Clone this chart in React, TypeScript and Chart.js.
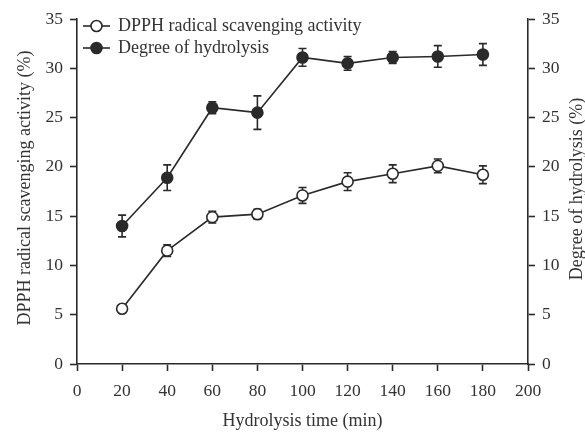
import React, { useEffect, useRef } from "react";
import { Chart, registerables } from "chart.js";

Chart.register(...registerables);

const times = [20, 40, 60, 80, 100, 120, 140, 160, 180];
const dpph = [5.6, 11.5, 14.9, 15.2, 17.1, 18.5, 19.3, 20.1, 19.2];
const dpphErr = [0.4, 0.6, 0.6, 0.5, 0.8, 0.9, 0.9, 0.7, 0.9];
const dh = [14.0, 18.9, 26.0, 25.5, 31.1, 30.5, 31.1, 31.2, 31.4];
const dhErr = [1.1, 1.3, 0.6, 1.7, 0.9, 0.7, 0.6, 1.1, 1.1];
const xTicks = [0, 20, 40, 60, 80, 100, 120, 140, 160, 180, 200];
const yTicks = [0, 5, 10, 15, 20, 25, 30, 35];

const FONT = "'Liberation Serif', 'Times New Roman', serif";
const INK = "#2a2a2a";
const TEXT = "#333333";

const errorBars = {
  id: "errorBars",
  beforeDatasetsDraw(chart: any) {
    const ctx = chart.ctx;
    const errs = [dpphErr, dhErr];
    ctx.save();
    ctx.strokeStyle = INK;
    ctx.lineWidth = 1.6;
    chart.data.datasets.forEach((ds: any, i: number) => {
      const ys = chart.scales[ds.yAxisID];
      const xs = chart.scales.x;
      ds.data.forEach((p: any, j: number) => {
        const x = xs.getPixelForValue(p.x);
        const y1 = ys.getPixelForValue(p.y + errs[i][j]);
        const y2 = ys.getPixelForValue(p.y - errs[i][j]);
        ctx.beginPath();
        ctx.moveTo(x, y1);
        ctx.lineTo(x, y2);
        ctx.moveTo(x - 4, y1);
        ctx.lineTo(x + 4, y1);
        ctx.moveTo(x - 4, y2);
        ctx.lineTo(x + 4, y2);
        ctx.stroke();
      });
    });
    ctx.restore();
  },
};

const decor = {
  id: "decor",
  afterDraw(chart: any) {
    const ctx = chart.ctx;
    const a = chart.chartArea;
    ctx.save();
    // legend
    const items = [
      { label: "DPPH radical scavenging activity", fill: "#ffffff", y: a.top + 7 },
      { label: "Degree of hydrolysis", fill: INK, y: a.top + 29 },
    ];
    items.forEach((it) => {
      const lx = a.left + 6;
      ctx.strokeStyle = INK;
      ctx.lineWidth = 1.6;
      ctx.beginPath();
      ctx.moveTo(lx, it.y);
      ctx.lineTo(lx + 27, it.y);
      ctx.stroke();
      ctx.beginPath();
      ctx.arc(lx + 13.5, it.y, 5.5, 0, Math.PI * 2);
      ctx.fillStyle = it.fill;
      ctx.fill();
      ctx.stroke();
      ctx.fillStyle = TEXT;
      ctx.font = `18px ${FONT}`;
      ctx.textAlign = "left";
      ctx.textBaseline = "middle";
      ctx.fillText(it.label, lx + 35, it.y);
    });
    // axis titles
    ctx.fillStyle = TEXT;
    ctx.font = `18px ${FONT}`;
    ctx.textAlign = "center";
    ctx.textBaseline = "middle";
    ctx.save();
    ctx.translate(25, 188);
    ctx.rotate(-Math.PI / 2);
    ctx.fillText("DPPH radical scavenging activity (%)", 0, 0);
    ctx.restore();
    ctx.save();
    ctx.translate(577, 189);
    ctx.rotate(-Math.PI / 2);
    ctx.fillText("Degree of hydrolysis (%)", 0, 0);
    ctx.restore();
    ctx.fillText("Hydrolysis time (min)", (a.left + a.right) / 2, 421);
    ctx.restore();
  },
};

export default function App() {
  const ref = useRef<HTMLCanvasElement>(null);
  useEffect(() => {
    if (!ref.current) return;
    const yScale = (pos: "left" | "right", width: number) => ({
      type: "linear" as const,
      position: pos,
      min: 0,
      max: 35,
      afterBuildTicks: (s: any) => {
        s.ticks = yTicks.map((v) => ({ value: v }));
      },
      afterFit: (s: any) => {
        s.width = width;
      },
      grid: {
        drawOnChartArea: false,
        drawTicks: true,
        tickLength: 7,
        tickWidth: 1.6,
        tickColor: INK,
      },
      border: { display: true, color: INK, width: 1.6 },
      ticks: {
        color: TEXT,
        font: { family: FONT, size: 17.5 },
        padding: 7,
      },
    });
    const chart = new Chart(ref.current, {
      type: "line",
      data: {
        datasets: [
          {
            label: "DPPH radical scavenging activity",
            data: times.map((t, i) => ({ x: t, y: dpph[i] })),
            yAxisID: "y",
            borderColor: INK,
            borderWidth: 1.6,
            pointRadius: 5.5,
            pointBackgroundColor: "#ffffff",
            pointBorderColor: INK,
            pointBorderWidth: 1.6,
            tension: 0,
          },
          {
            label: "Degree of hydrolysis",
            data: times.map((t, i) => ({ x: t, y: dh[i] })),
            yAxisID: "y1",
            borderColor: INK,
            borderWidth: 1.6,
            pointRadius: 5.5,
            pointBackgroundColor: INK,
            pointBorderColor: INK,
            pointBorderWidth: 1.6,
            tension: 0,
          },
        ],
      },
      options: {
        animation: false,
        responsive: false,
        layout: { padding: { top: 19, left: 0, right: 0, bottom: 0 } },
        plugins: { legend: { display: false }, tooltip: { enabled: false } },
        scales: {
          x: {
            type: "linear",
            min: 0,
            max: 200,
            afterBuildTicks: (s: any) => {
              s.ticks = xTicks.map((v) => ({ value: v }));
            },
            afterFit: (s: any) => {
              s.height = 68;
            },
            grid: {
              drawOnChartArea: false,
              drawTicks: true,
              tickLength: 7,
              tickWidth: 1.6,
              tickColor: INK,
            },
            border: { display: true, color: INK, width: 1.6 },
            ticks: {
              color: TEXT,
              font: { family: FONT, size: 17.5 },
              padding: 10,
              maxRotation: 0,
            },
          },
          y: yScale("left", 77),
          y1: yScale("right", 57),
        },
      },
      plugins: [errorBars, decor],
    });
    return () => chart.destroy();
  }, []);
  return (
    <div style={{ position: "fixed", left: 0, top: 0, width: 585, height: 432, background: "#fff" }}>
      <canvas ref={ref} width={585} height={432} style={{ width: 585, height: 432 }} />
    </div>
  );
}
